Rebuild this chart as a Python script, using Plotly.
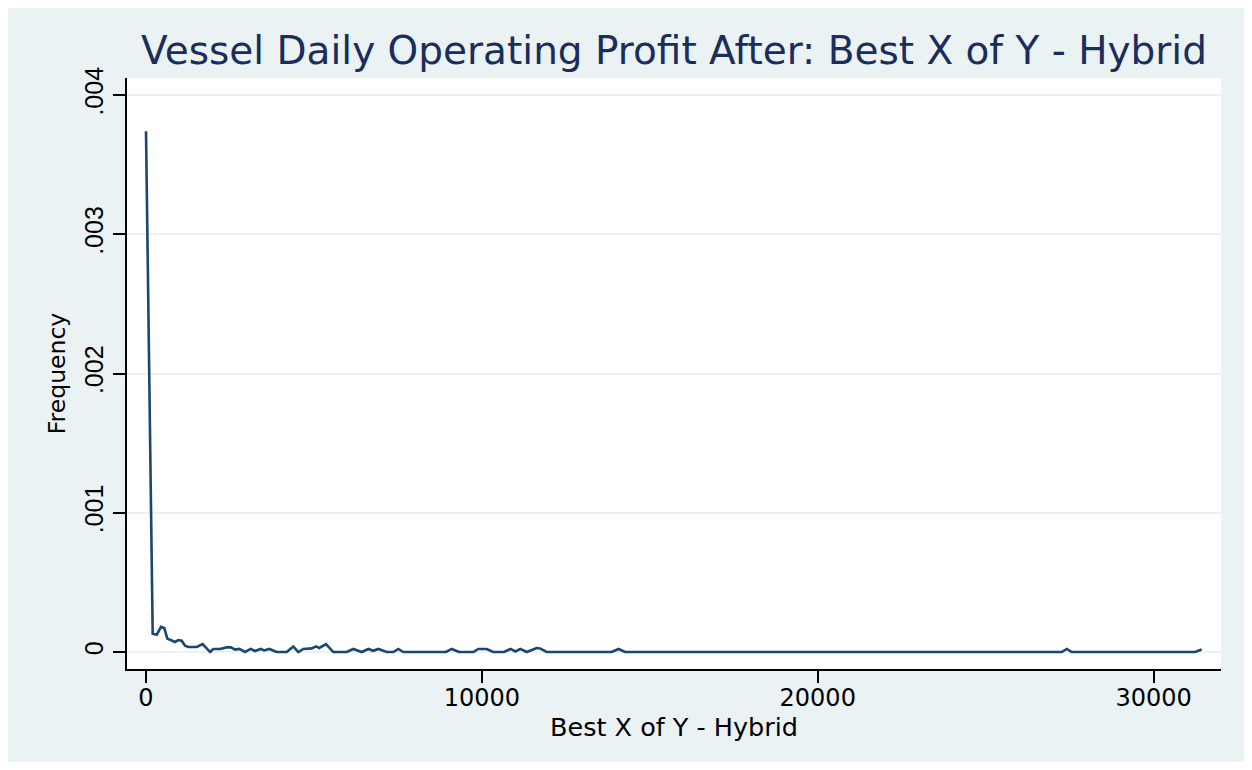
import plotly.graph_objects as go

# Vertices of the frequency polygon (x = Best X of Y - Hybrid, y = frequency density)
profit_x = [0, 199, 319, 447, 545, 634, 783, 863, 962, 1063, 1161, 1259, 1510, 1688,
            1906, 2004, 2203, 2403, 2531, 2650, 2778, 2948, 3117, 3245, 3415, 3522, 3671,
            3891, 4189, 4386, 4535, 4683, 4934, 5062, 5160, 5359, 5577, 5976, 6172, 6422,
            6619, 6768, 6917, 7167, 7363, 7512, 7661, 8932, 9102, 9319, 9745, 9894, 10144,
            10341, 10659, 10853, 11001, 11144, 11335, 11633, 11731, 11930, 13866, 14068,
            14262, 27264, 27416, 27562, 31233, 31433]
frequency = [0.00374, 0.000131, 0.000124, 0.000180, 0.000172, 0.000096, 0.000081, 0.000072,
             0.000086, 0.000081, 0.000045, 0.000036, 0.000036, 0.000057,
             0.0, 0.000022, 0.000022, 0.000033, 0.000033, 0.000017, 0.000022, 0.0, 0.000022,
             0.000007, 0.000022, 0.000011, 0.000022,
             0.0, 0.0, 0.000040, 0.0, 0.000022, 0.000026, 0.000040, 0.000029, 0.000057, 0.0,
             0.0, 0.000022, 0.0,
             0.000022, 0.000009, 0.000022, 0.0, 0.0, 0.000022, 0.0, 0.0, 0.000022, 0.0, 0.0,
             0.000022, 0.000022,
             0.0, 0.0, 0.000022, 0.000004, 0.000022, 0.0, 0.000029, 0.000026, 0.0, 0.0,
             0.000022,
             0.0, 0.0, 0.000022, 0.0, 0.0, 0.000018]

x_tickvals = [0, 10000, 20000, 30000]
x_ticktext = ["0", "10000", "20000", "30000"]
y_tickvals = [0, 0.001, 0.002, 0.003, 0.004]
y_ticktext = ["0", ".001", ".002", ".003", ".004"]

title_text = "Vessel Daily Operating Profit After: Best X of Y - Hybrid"
x_title = "Best X of Y - Hybrid"
y_title = "Frequency"

BG = "#EAF2F3"
NAVY = "#1A476F"

fig = go.Figure()
fig.add_trace(go.Scatter(x=profit_x, y=frequency, mode="lines",
                         line=dict(color=NAVY, width=2.6), hoverinfo="x+y",
                         showlegend=False))

fig.update_layout(
    width=1236, height=754,
    margin=dict(l=119, r=23, t=70, b=93, pad=0),
    paper_bgcolor=BG,
    plot_bgcolor="white",
    title=dict(text=title_text, x=0.5, xref="paper", y=0.944, yref="container",
               xanchor="center", yanchor="middle",
               font=dict(family="DejaVu Sans", size=39, color="#1B2D5A")),
    xaxis=dict(range=[-566, 32007], tickmode="array", tickvals=x_tickvals,
               ticktext=x_ticktext, showgrid=False, zeroline=False,
               showline=True, linecolor="black", linewidth=1.5,
               ticks="outside", ticklen=12, tickwidth=1.5, tickcolor="black",
               ticklabelstandoff=-6,
               tickfont=dict(family="DejaVu Sans", size=24, color="black"),
               title=dict(text=x_title, standoff=7,
                          font=dict(family="DejaVu Sans", size=25.5, color="black")),
               fixedrange=True),
    yaxis=dict(range=[-0.000122, 0.004122], tickmode="array", tickvals=y_tickvals,
               ticktext=y_ticktext, showgrid=True, gridcolor=BG, gridwidth=2,
               zeroline=False, showline=True, linecolor="black", linewidth=1.5,
               ticks="outside", ticklen=12, tickwidth=1.5, tickcolor="black",
               tickangle=-90,
               tickfont=dict(family="Liberation Sans", size=25, color="black"),
               title=dict(text=y_title, standoff=8,
                          font=dict(family="DejaVu Sans", size=23.5, color="black")),
               fixedrange=True),
)

fig.write_html("out.html")
